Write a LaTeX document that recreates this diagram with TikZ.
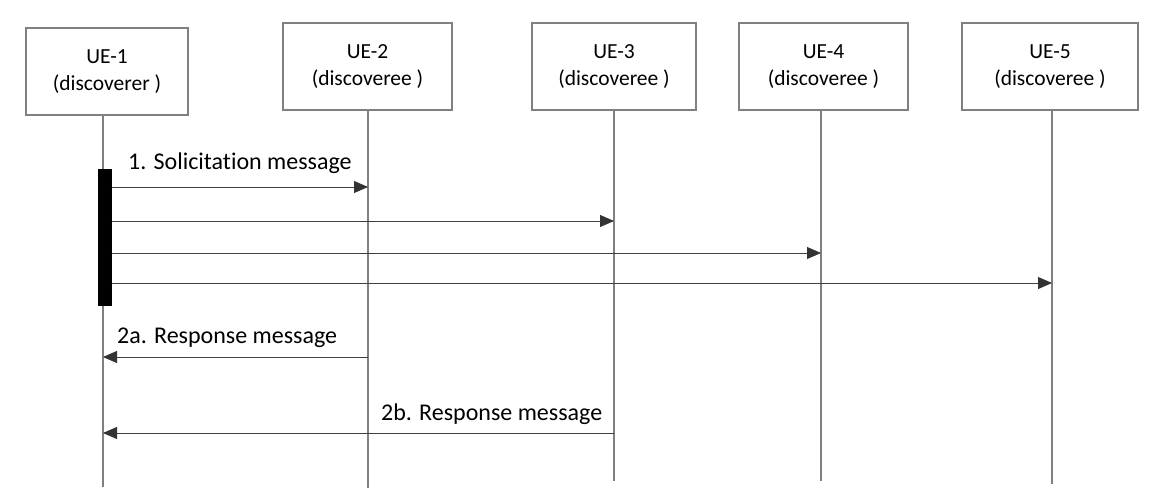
\documentclass[tikz,border=0pt]{standalone}
\usepackage{fontspec}
\setmainfont{Carlito}[Ligatures={NoCommon}]
\usetikzlibrary{arrows.meta}
\definecolor{lifegray}{HTML}{808080}
\definecolor{msggray}{HTML}{404040}
\definecolor{headgray}{HTML}{333333}
\tikzset{
  uebox/.style={draw=lifegray, line width=1.2pt, fill=white, minimum height=87pt, inner sep=0pt,
    align=center, font=\fontsize{21.5}{27.5}\selectfont},
  lifeline/.style={draw=lifegray, line width=1.2pt},
  msg/.style={draw=msggray, line width=0.9pt, -{Triangle[length=14pt,width=12pt,fill=headgray,color=headgray]}},
  msglabel/.style={font=\fontsize{24}{28}\selectfont, inner sep=0pt, anchor=base west},
  actbar/.style={fill=black, draw=none, minimum width=13.5pt, minimum height=137pt, inner sep=0pt}
}
\begin{document}
\begin{tikzpicture}[x=1pt,y=-1pt]
\useasboundingbox (0,0) rectangle (1156,497);
% boxes
\node[uebox, minimum width=162pt] (ue1) at (107,71.5) {UE-1\\(discoverer )};
\node[uebox, minimum width=169pt] (ue2) at (367.5,66.5) {UE-2\\(discoveree )};
\node[uebox, minimum width=164pt] (ue3) at (614,66.5) {UE-3\\(discoveree )};
\node[uebox, minimum width=169pt] (ue4) at (823.5,66.5) {UE-4\\(discoveree )};
\node[uebox, minimum width=176pt] (ue5) at (1050,66.5) {UE-5\\(discoveree )};
% lifeline ends
\coordinate (t1) at (103,115);  \coordinate (b1) at (103,487);
\coordinate (t2) at (368,110);  \coordinate (b2) at (368,488);
\coordinate (t3) at (614,110);  \coordinate (b3) at (614,481);
\coordinate (t4) at (821,110);  \coordinate (b4) at (821,481);
\coordinate (t5) at (1052,110); \coordinate (b5) at (1052,484);
\draw[lifeline] (t1) -- (b1);
\draw[lifeline] (t2) -- (b2);
\draw[lifeline] (t3) -- (b3);
\draw[lifeline] (t4) -- (b4);
\draw[lifeline] (t5) -- (b5);
% activation bar
\node[actbar] (bar) at (104.75,237.5) {};
% solicitation arrows
\coordinate (s1) at (111.5,187); \coordinate (e1) at (368,187);
\coordinate (s2) at (111.5,221); \coordinate (e2) at (614,221);
\coordinate (s3) at (111.5,253); \coordinate (e3) at (821,253);
\coordinate (s4) at (111.5,283); \coordinate (e4) at (1052,283);
\draw[msg] (s1) -- (e1);
\draw[msg] (s2) -- (e2);
\draw[msg] (s3) -- (e3);
\draw[msg] (s4) -- (e4);
\node[msglabel] (l1) at (128,170) {1. Solicitation message};
% responses
\coordinate (r1s) at (368,357); \coordinate (r1e) at (103,357);
\coordinate (r2s) at (614,433); \coordinate (r2e) at (103,433);
\draw[msg] (r1s) -- (r1e);
\draw[msg] (r2s) -- (r2e);
\node[msglabel] (l2) at (117,343) {2a. Response message};
\node[msglabel] (l3) at (381,420) {2b. Response message};
\end{tikzpicture}
\end{document}
